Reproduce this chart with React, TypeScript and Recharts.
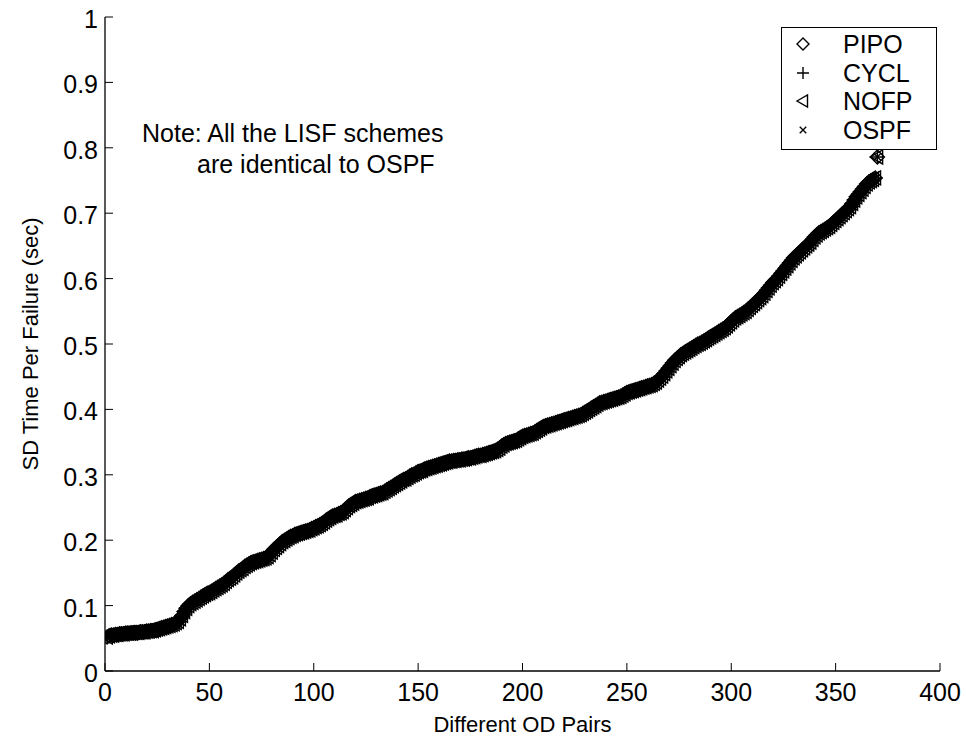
import React from "react";
import { ScatterChart, Scatter, XAxis, YAxis, Legend, Label } from "recharts";

// SD time per failure (sec) for each OD pair, sorted ascending (OD pairs 1..370)
const sdTimePerFailure = [
  0.052, 0.054, 0.055, 0.055, 0.056, 0.056, 0.057, 0.057, 0.057, 0.058,
  0.058, 0.058, 0.058, 0.059, 0.059, 0.059, 0.060, 0.060, 0.060, 0.061,
  0.061, 0.062, 0.062, 0.063, 0.064, 0.065, 0.066, 0.067, 0.068, 0.069,
  0.070, 0.071, 0.072, 0.074, 0.076, 0.080, 0.085, 0.091, 0.096, 0.100,
  0.103, 0.105, 0.107, 0.109, 0.111, 0.113, 0.115, 0.117, 0.119, 0.120,
  0.122, 0.124, 0.126, 0.128, 0.130, 0.132, 0.134, 0.137, 0.140, 0.142,
  0.144, 0.147, 0.150, 0.153, 0.155, 0.157, 0.160, 0.162, 0.164, 0.166,
  0.167, 0.168, 0.169, 0.170, 0.171, 0.172, 0.173, 0.175, 0.178, 0.182,
  0.186, 0.189, 0.192, 0.195, 0.198, 0.200, 0.202, 0.204, 0.206, 0.207,
  0.209, 0.210, 0.211, 0.212, 0.213, 0.214, 0.215, 0.216, 0.218, 0.219,
  0.221, 0.222, 0.224, 0.226, 0.228, 0.231, 0.233, 0.235, 0.237, 0.238,
  0.239, 0.241, 0.242, 0.244, 0.247, 0.250, 0.253, 0.255, 0.257, 0.259,
  0.260, 0.261, 0.262, 0.263, 0.264, 0.265, 0.267, 0.268, 0.269, 0.270,
  0.271, 0.272, 0.273, 0.275, 0.277, 0.279, 0.281, 0.283, 0.285, 0.287,
  0.289, 0.291, 0.293, 0.294, 0.296, 0.298, 0.300, 0.301, 0.303, 0.305,
  0.306, 0.307, 0.309, 0.310, 0.311, 0.312, 0.313, 0.314, 0.315, 0.316,
  0.317, 0.318, 0.319, 0.320, 0.321, 0.321, 0.322, 0.322, 0.323, 0.323,
  0.324, 0.324, 0.325, 0.326, 0.326, 0.327, 0.328, 0.329, 0.330, 0.330,
  0.331, 0.332, 0.333, 0.334, 0.335, 0.336, 0.337, 0.339, 0.341, 0.344,
  0.346, 0.348, 0.349, 0.350, 0.351, 0.352, 0.353, 0.355, 0.357, 0.359,
  0.360, 0.361, 0.362, 0.363, 0.364, 0.366, 0.368, 0.370, 0.372, 0.374,
  0.375, 0.376, 0.377, 0.378, 0.379, 0.380, 0.381, 0.382, 0.383, 0.384,
  0.385, 0.386, 0.387, 0.388, 0.389, 0.390, 0.391, 0.392, 0.394, 0.396,
  0.398, 0.400, 0.402, 0.404, 0.406, 0.408, 0.410, 0.411, 0.412, 0.413,
  0.414, 0.415, 0.416, 0.417, 0.418, 0.419, 0.420, 0.422, 0.424, 0.426,
  0.427, 0.428, 0.429, 0.430, 0.431, 0.432, 0.433, 0.434, 0.435, 0.436,
  0.437, 0.438, 0.440, 0.442, 0.445, 0.448, 0.451, 0.455, 0.459, 0.463,
  0.467, 0.471, 0.475, 0.478, 0.481, 0.484, 0.486, 0.488, 0.490, 0.492,
  0.494, 0.496, 0.498, 0.500, 0.501, 0.503, 0.505, 0.507, 0.509, 0.511,
  0.513, 0.515, 0.517, 0.519, 0.521, 0.523, 0.525, 0.528, 0.531, 0.534,
  0.537, 0.540, 0.542, 0.544, 0.546, 0.548, 0.550, 0.553, 0.556, 0.559,
  0.562, 0.565, 0.568, 0.571, 0.574, 0.578, 0.582, 0.586, 0.590, 0.594,
  0.597, 0.600, 0.604, 0.608, 0.612, 0.616, 0.620, 0.624, 0.628, 0.632,
  0.635, 0.638, 0.641, 0.644, 0.647, 0.650, 0.653, 0.656, 0.660, 0.664,
  0.667, 0.670, 0.672, 0.674, 0.676, 0.678, 0.680, 0.683, 0.686, 0.689,
  0.692, 0.695, 0.698, 0.701, 0.704, 0.707, 0.710, 0.715, 0.720, 0.725,
  0.729, 0.733, 0.737, 0.741, 0.745, 0.748, 0.750, 0.752, 0.754, 0.786,
];

// all schemes overlap on the plot (LISF == OSPF, others drawn on top)
const schemes = ["PIPO", "CYCL", "NOFP", "OSPF"];

const xTicks = [0, 50, 100, 150, 200, 250, 300, 350, 400];
const yTicks = [0, 0.1, 0.2, 0.3, 0.4, 0.5, 0.6, 0.7, 0.8, 0.9, 1];

const noteLines = ["Note: All the LISF schemes", "are identical to OSPF"];

const FONT = '"Liberation Sans", Arial, Helvetica, sans-serif';

const points = sdTimePerFailure.map((v, i) => ({ pair: i + 1, sd: v }));

const Glyph = ({ kind, cx, cy, r = 7 }: { kind: string; cx: number; cy: number; r?: number }) => {
  const common = { fill: "none", stroke: "#000", strokeWidth: 1.4 };
  if (kind === "PIPO") {
    return <path d={`M${cx},${cy - r}L${cx + r},${cy}L${cx},${cy + r}L${cx - r},${cy}Z`} {...common} />;
  }
  if (kind === "CYCL") {
    return <path d={`M${cx - r},${cy}H${cx + r}M${cx},${cy - r}V${cy + r}`} {...common} />;
  }
  if (kind === "NOFP") {
    const b = r * 0.75;
    return <path d={`M${cx - r},${cy}L${cx + b},${cy - r}L${cx + b},${cy + r}Z`} {...common} />;
  }
  const k = r * 0.65;
  return <path d={`M${cx - k},${cy - k}L${cx + k},${cy + k}M${cx + k},${cy - k}L${cx - k},${cy + k}`} {...common} />;
};

const BottomTick = (props: any) => {
  const { x, y, payload } = props;
  return (
    <g>
      <line x1={x} y1={y} x2={x} y2={y - 8} stroke="#000" />
      <text x={x} y={y + 30} textAnchor="middle" fontSize={25} fontFamily={FONT} fill="#000">
        {payload.value}
      </text>
    </g>
  );
};

const LeftTick = (props: any) => {
  const { x, y, payload } = props;
  return (
    <g>
      <line x1={x} y1={y} x2={x + 8} y2={y} stroke="#000" />
      <text x={x - 7} y={y + 11} textAnchor="end" fontSize={25} fontFamily={FONT} fill="#000">
        {payload.value}
      </text>
    </g>
  );
};

const TopTick = (props: any) => {
  const { x, y } = props;
  return <line x1={x} y1={y} x2={x} y2={y + 8} stroke="#000" />;
};

const RightTick = (props: any) => {
  const { x, y } = props;
  return <line x1={x} y1={y} x2={x - 8} y2={y} stroke="#000" />;
};

const LegendBox = () => (
  <div
    style={{
      width: 156,
      height: 123,
      border: "1px solid #000",
      background: "#fff",
      boxSizing: "border-box",
      position: "relative",
      fontFamily: FONT,
    }}
  >
    {schemes.map((name, i) => (
      <div key={name} style={{ position: "absolute", left: 0, top: 2 + i * 28.5, height: 28, width: 155 }}>
        <svg width={40} height={28} style={{ position: "absolute", left: 0, top: 0 }}>
          <Glyph kind={name} cx={21} cy={14} r={name === "OSPF" ? 5 : 6} />
        </svg>
        <span style={{ position: "absolute", left: 61, top: 0, fontSize: 25, lineHeight: "28px", color: "#000" }}>
          {name}
        </span>
      </div>
    ))}
  </div>
);

export default function App() {
  return (
    <div style={{ position: "absolute", left: 0, top: 0, width: 966, height: 738, background: "#fff" }}>
      <ScatterChart width={966} height={738} margin={{ top: 17, right: 26, bottom: 0, left: 0 }}>
        <XAxis
          type="number"
          dataKey="pair"
          domain={[0, 400]}
          ticks={xTicks}
          interval={0}
          allowDataOverflow
          height={67}
          tickSize={0}
          tickMargin={0}
          tickLine={false}
          axisLine={{ stroke: "#000", strokeWidth: 1.3 }}
          tick={<BottomTick />}
        >
          <Label
            value="Different OD Pairs"
            position="insideBottom"
            offset={6}
            style={{ fontSize: 22, fontFamily: FONT, fill: "#000" }}
          />
        </XAxis>
        <XAxis
          xAxisId="top"
          orientation="top"
          type="number"
          domain={[0, 400]}
          ticks={xTicks}
          interval={0}
          height={0}
          tickSize={0}
          tickMargin={0}
          tickLine={false}
          axisLine={{ stroke: "#000", strokeWidth: 1.3 }}
          tick={<TopTick />}
        />
        <YAxis
          type="number"
          dataKey="sd"
          domain={[0, 1]}
          ticks={yTicks}
          interval={0}
          allowDataOverflow
          width={105}
          tickSize={0}
          tickMargin={0}
          tickLine={false}
          axisLine={{ stroke: "#000", strokeWidth: 1.3 }}
          tick={<LeftTick />}
        >
          <Label
            value="SD Time Per Failure (sec)"
            position="insideLeft"
            angle={-90}
            offset={30}
            style={{ fontSize: 22, fontFamily: FONT, fill: "#000", textAnchor: "middle" }}
          />
        </YAxis>
        <YAxis
          yAxisId="right"
          orientation="right"
          type="number"
          domain={[0, 1]}
          ticks={yTicks}
          interval={0}
          width={0}
          tickSize={0}
          tickMargin={0}
          tickLine={false}
          axisLine={{ stroke: "#000", strokeWidth: 1.3 }}
          tick={<RightTick />}
        />
        {schemes.map((name) => (
          <Scatter
            key={name}
            name={name}
            data={points}
            isAnimationActive={false}
            shape={(p: any) => <Glyph kind={name} cx={p.cx} cy={p.cy} r={name === "OSPF" ? 6 : 7} />}
          />
        ))}
        <Legend
          layout="vertical"
          align="center"
          verticalAlign="middle"
          wrapperStyle={{ left: 781, top: 27, width: 156, height: 123 }}
          content={() => <LegendBox />}
        />
      </ScatterChart>
      {noteLines.map((line, i) => (
        <div
          key={line}
          style={{
            position: "absolute",
            left: i === 0 ? 142 : 197,
            top: i === 0 ? 121 : 152,
            fontFamily: FONT,
            fontSize: 25,
            lineHeight: "25px",
            color: "#000",
            whiteSpace: "nowrap",
          }}
        >
          {line}
        </div>
      ))}
    </div>
  );
}
